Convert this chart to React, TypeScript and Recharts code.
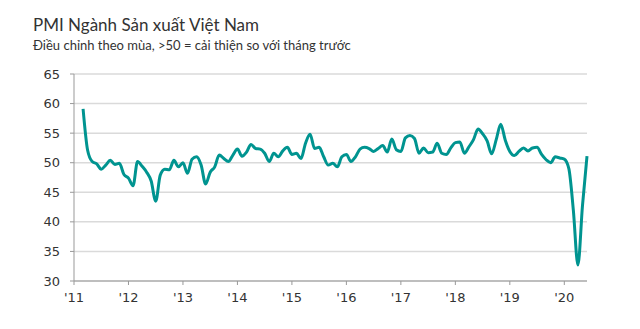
import { CartesianGrid, Line, LineChart, XAxis, YAxis } from 'recharts'

// Month index 0 = Jan 2011; series starts Mar 2011 (index 2)
const firstMonth = 2
const pmi = [
  59.1, 52.1, 50.2, 49.8, 48.9, 49.6, 50.4, 49.7, 49.9, 48.0,
  47.4, 46.1, 50.2, 49.4, 48.4, 46.9, 43.5, 47.9, 48.9, 48.8, 50.4, 49.3,
  50.0, 48.2, 50.6, 51.0, 49.6, 46.4, 48.4, 49.3, 51.3, 50.7, 50.2, 51.3,
  52.3, 51.1, 51.8, 53.1, 52.4, 52.3, 51.6, 50.2, 51.6, 51.0, 52.0, 52.6,
  51.4, 51.6, 50.7, 53.3, 54.8, 52.4, 52.6, 51.0, 49.6, 49.9, 49.3, 51.0,
  51.4, 50.2, 51.0, 52.3, 52.6, 52.4, 51.9, 52.4, 52.9, 51.8, 54.0, 52.2,
  51.9, 54.2, 54.6, 54.1, 51.6, 52.5, 51.7, 51.8, 53.3, 51.6, 51.4, 52.5,
  53.4, 53.5, 51.6, 52.7, 53.9, 55.7, 54.9, 53.7, 51.5, 53.9, 56.5, 53.8,
  51.9, 51.2, 51.9, 52.5, 52.0, 52.5, 52.6, 51.4, 50.5, 50.0, 51.0, 50.8,
  50.6, 49.0, 41.9, 32.7, 42.7, 51.1,
]
const yearTicks = [0, 12, 24, 36, 48, 60, 72, 84, 96, 108]
const yTicks = [30, 35, 40, 45, 50, 55, 60, 65]

const data = pmi.map((v, i) => ({ m: firstMonth + i, pmi: v }))

const tickStyle = { fontFamily: 'DejaVu Sans', fontSize: 13, fill: '#333' }

export default function App() {
  return (
    <div style={{ position: 'absolute', left: 0, top: 0, width: 640, height: 329, background: '#fff' }}>
      <svg width={640} height={60} style={{ position: 'absolute', left: 0, top: 0 }}>
        <text x={33} y={30.7} fontFamily='Lato' fontSize={17} fill='#333'>
          PMI Ngành Sản xuất Việt Nam
        </text>
        <text x={33} y={49.5} fontFamily='Lato' fontSize={13} fill='#333'>
          Điều chỉnh theo mùa, &gt;50 = cải thiện so với tháng trước
        </text>
      </svg>
      <div style={{ position: 'absolute', left: 0, top: 0 }}>
        <LineChart width={640} height={329} data={data} margin={{ top: 74, right: 53, bottom: 18, left: 14 }}>
          <CartesianGrid vertical={false} stroke='#dadada' strokeWidth={1.5} />
          <XAxis
            dataKey='m'
            type='number'
            domain={[0, 113]}
            ticks={yearTicks}
            tickFormatter={(v) => `'${11 + v / 12}`}
            stroke='#999'
            tickSize={4}
            tickMargin={8}
            height={30}
            tick={tickStyle}
          />
          <YAxis
            domain={[30, 65]}
            ticks={yTicks}
            stroke='#999'
            tickSize={4}
            tickMargin={10}
            width={60}
            tick={tickStyle}
          />
          <Line
            type='monotone'
            dataKey='pmi'
            stroke='#009490'
            strokeWidth={3}
            dot={false}
            isAnimationActive={false}
          />
        </LineChart>
      </div>
    </div>
  )
}
